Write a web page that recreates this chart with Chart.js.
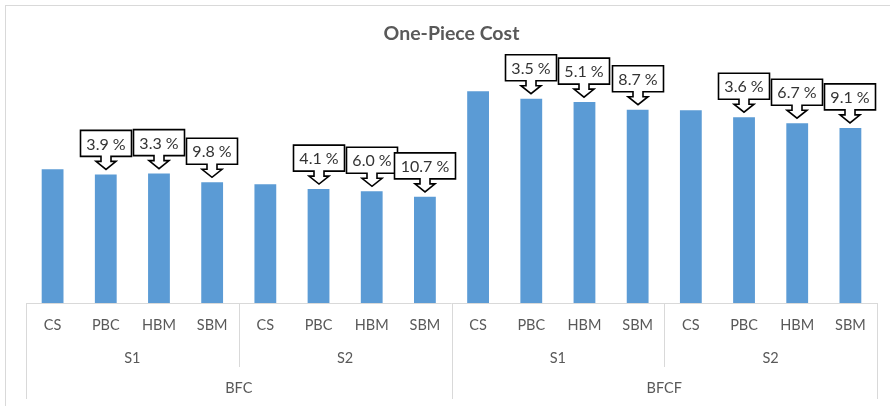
<!DOCTYPE html>
<html>
<head>
<meta charset="utf-8">
<title>One-Piece Cost</title>
<script src="https://cdn.jsdelivr.net/npm/chart.js@4.4.1/dist/chart.umd.min.js"></script>
<style>
  html, body { margin: 0; padding: 0; background: #fff; }
  #wrap { width: 890px; height: 406px; position: relative; }
</style>
</head>
<body>
<div id="wrap"><canvas id="costChart"></canvas></div>
<script>
// ===== DATA =====
const categories = ["CS", "PBC", "HBM", "SBM", "CS", "PBC", "HBM", "SBM",
                    "CS", "PBC", "HBM", "SBM", "CS", "PBC", "HBM", "SBM"];
const scenarioLabels = ["S1", "S2", "S1", "S2"];   // 4 bars each
const processLabels = ["BFC", "BFCF"];              // 8 bars each

const costs = [134.0, 128.8, 129.6, 120.9, 119.0, 114.1, 111.9, 106.3,
               212.0, 204.6, 201.2, 193.6, 193.0, 186.1, 180.1, 175.4];

// reduction vs. CS of the same group
const reductions = ["", "3.9 %", "3.3 %", "9.8 %", "", "4.1 %", "6.0 %", "10.7 %",
                    "", "3.5 %", "5.1 %", "8.7 %", "", "3.6 %", "6.7 %", "9.1 %"];

const gridGray = "#d9d9d9";
const labelGray = "#595959";

// ===== FRAME =====
const framePlugin = {
  id: "frame",
  beforeDraw(chart) {
    const ctx = chart.ctx;
    ctx.save();
    ctx.strokeStyle = gridGray;
    ctx.lineWidth = 1;
    ctx.strokeRect(5.5, 5.5, 920, 440);
    ctx.restore();
  }
};

// ===== MULTI-LEVEL X AXIS =====
const axisPlugin = {
  id: "multiAxis",
  afterDraw(chart) {
    const ctx = chart.ctx;
    const x = chart.scales.x;
    const area = chart.chartArea;
    const step = (area.right - area.left) / categories.length;
    const edge = i => area.left + i * step;
    const base = area.bottom;

    ctx.save();
    ctx.strokeStyle = gridGray;
    ctx.lineWidth = 1;

    ctx.beginPath();
    ctx.moveTo(area.left, base + 0.5);
    ctx.lineTo(area.right, base + 0.5);
    // scenario dividers
    [4, 12].forEach(i => {
      const px = Math.round(edge(i)) + 0.5;
      ctx.moveTo(px, base);
      ctx.lineTo(px, base + 64);
    });
    // process dividers and outer edges
    [0, 8, 16].forEach(i => {
      const px = Math.round(edge(i)) + 0.5;
      ctx.moveTo(px, base);
      ctx.lineTo(px, base + 96);
    });
    ctx.stroke();

    ctx.fillStyle = labelGray;
    ctx.font = "14.5px Lato";
    ctx.textAlign = "center";
    ctx.textBaseline = "middle";
    categories.forEach((c, i) => {
      ctx.fillText(c, x.getPixelForValue(i), base + 22);
    });
    scenarioLabels.forEach((s, g) => {
      ctx.fillText(s, (edge(g * 4) + edge(g * 4 + 4)) / 2, base + 55);
    });
    processLabels.forEach((p, g) => {
      ctx.fillText(p, (edge(g * 8) + edge(g * 8 + 8)) / 2, base + 85);
    });
    ctx.restore();
  }
};

// ===== DOWN-ARROW CALLOUTS =====
const calloutPlugin = {
  id: "callouts",
  afterDatasetsDraw(chart) {
    const ctx = chart.ctx;
    const bars = chart.getDatasetMeta(0).data;
    ctx.save();
    ctx.font = "16px Lato";
    ctx.textAlign = "center";
    ctx.textBaseline = "middle";
    bars.forEach((bar, i) => {
      const txt = reductions[i];
      if (!txt) return;
      const cx = Math.round(bar.x);
      const top = bar.y;
      const w = Math.round(ctx.measureText(txt).width) + 12;
      const boxBottom = top - 18;
      const boxTop = boxBottom - 26;
      const wing = top - 13;
      const tip = top - 5;
      const l = cx - w / 2, r = cx + w / 2;

      ctx.beginPath();
      ctx.moveTo(l, boxTop);
      ctx.lineTo(r, boxTop);
      ctx.lineTo(r, boxBottom);
      ctx.lineTo(cx + 5, boxBottom);
      ctx.lineTo(cx + 5, wing);
      ctx.lineTo(cx + 10, wing);
      ctx.lineTo(cx, tip);
      ctx.lineTo(cx - 10, wing);
      ctx.lineTo(cx - 5, wing);
      ctx.lineTo(cx - 5, boxBottom);
      ctx.lineTo(l, boxBottom);
      ctx.closePath();
      ctx.fillStyle = "#ffffff";
      ctx.fill();
      ctx.strokeStyle = "#000000";
      ctx.lineWidth = 1.6;
      ctx.lineJoin = "miter";
      ctx.stroke();

      ctx.fillStyle = "#333333";
      ctx.fillText(txt, cx, (boxTop + boxBottom) / 2 + 1);
    });
    ctx.restore();
  }
};

new Chart(document.getElementById("costChart"), {
  type: "bar",
  data: {
    labels: categories,
    datasets: [{
      label: "One-Piece Cost",
      data: costs,
      backgroundColor: "#5b9bd5",
      borderWidth: 0,
      barPercentage: 0.41,
      categoryPercentage: 1.0
    }]
  },
  options: {
    responsive: true,
    maintainAspectRatio: false,
    animation: false,
    layout: {
      padding: { top: 22, left: 26, right: 13, bottom: 103 }
    },
    plugins: {
      legend: { display: false },
      tooltip: { enabled: false },
      title: {
        display: true,
        text: "One-Piece Cost",
        color: labelGray,
        font: { family: "Lato", size: 19.5, weight: "bold", lineHeight: 1.2 },
        padding: { top: 0, bottom: 8 }
      }
    },
    scales: {
      x: { display: false },
      y: { display: false, min: 0, max: 250 }
    }
  },
  plugins: [framePlugin, axisPlugin, calloutPlugin]
});
</script>
</body>
</html>
